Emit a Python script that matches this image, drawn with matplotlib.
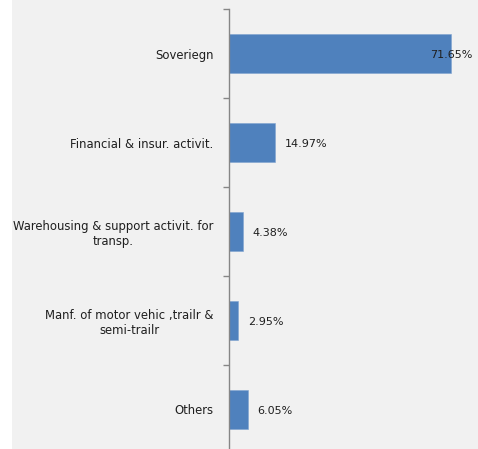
import matplotlib.pyplot as plt
from matplotlib.patches import Rectangle

plt.rcParams.update({
    "font.family": "DejaVu Sans",
    "font.size": 8.4,
})

CATEGORIES = [
    "Soveriegn",
    "Financial & insur. activit.",
    "Warehousing & support activit. for\ntransp.",
    "Manf. of motor vehic ,trailr &\nsemi-trailr",
    "Others",
]
SHARES = [71.65, 14.97, 4.38, 2.95, 6.05]

BAR_COLOR = "#4F81BD"
BG_COLOR = "#F1F1F1"
AXIS_COLOR = "#868686"
TEXT_COLOR = "#1F1F1F"

W, H = 478, 449
fig = plt.figure(figsize=(W / 100, H / 100), dpi=100)
fig.patches.append(Rectangle((12 / W, 0), 1 - 12 / W, 1, transform=fig.transFigure,
                             facecolor=BG_COLOR, edgecolor="none", zorder=-10))

# plot area: value axis at x=229px, categories 89px apart starting at y=9px
x0, top, step = 229, 9, 89
px_per_unit = 3.1
ax_h = step * len(CATEGORIES)
ax = fig.add_axes([x0 / W, (H - top - ax_h) / H, (W - x0) / W, ax_h / H])
ax.set_zorder(1)
ax.set_facecolor("none")
ax.set_xlim(0, (W - x0) / px_per_unit)
ax.set_ylim(len(CATEGORIES) - 0.5, -0.5)

ypos = list(range(len(CATEGORIES)))
ax.barh(ypos, SHARES, height=0.43, color=BAR_COLOR, edgecolor="#7FA3D0", linewidth=0.4)

# value labels just past bar end, kept inside the plot area
label_max = (430 - x0) / px_per_unit
for y, v in zip(ypos, SHARES):
    ax.text(min(v + 3.2, label_max), y + 0.02, f"{v:.2f}%", ha="left", va="center",
            color=TEXT_COLOR, fontsize=8.0)

for side in ("top", "right", "bottom"):
    ax.spines[side].set_visible(False)
ax.spines["left"].set_color(AXIS_COLOR)
ax.spines["left"].set_linewidth(1.0)
ax.set_xticks([])

ax.set_yticks(ypos)
ax.set_yticklabels(CATEGORIES, multialignment="center", color=TEXT_COLOR)
ax.tick_params(axis="y", which="major", length=0, pad=11)
ax.set_yticks([i - 0.5 for i in range(len(CATEGORIES) + 1)], minor=True)
ax.tick_params(axis="y", which="minor", length=4, width=1.0, color=AXIS_COLOR)

fig.savefig("out.png", dpi=100)
